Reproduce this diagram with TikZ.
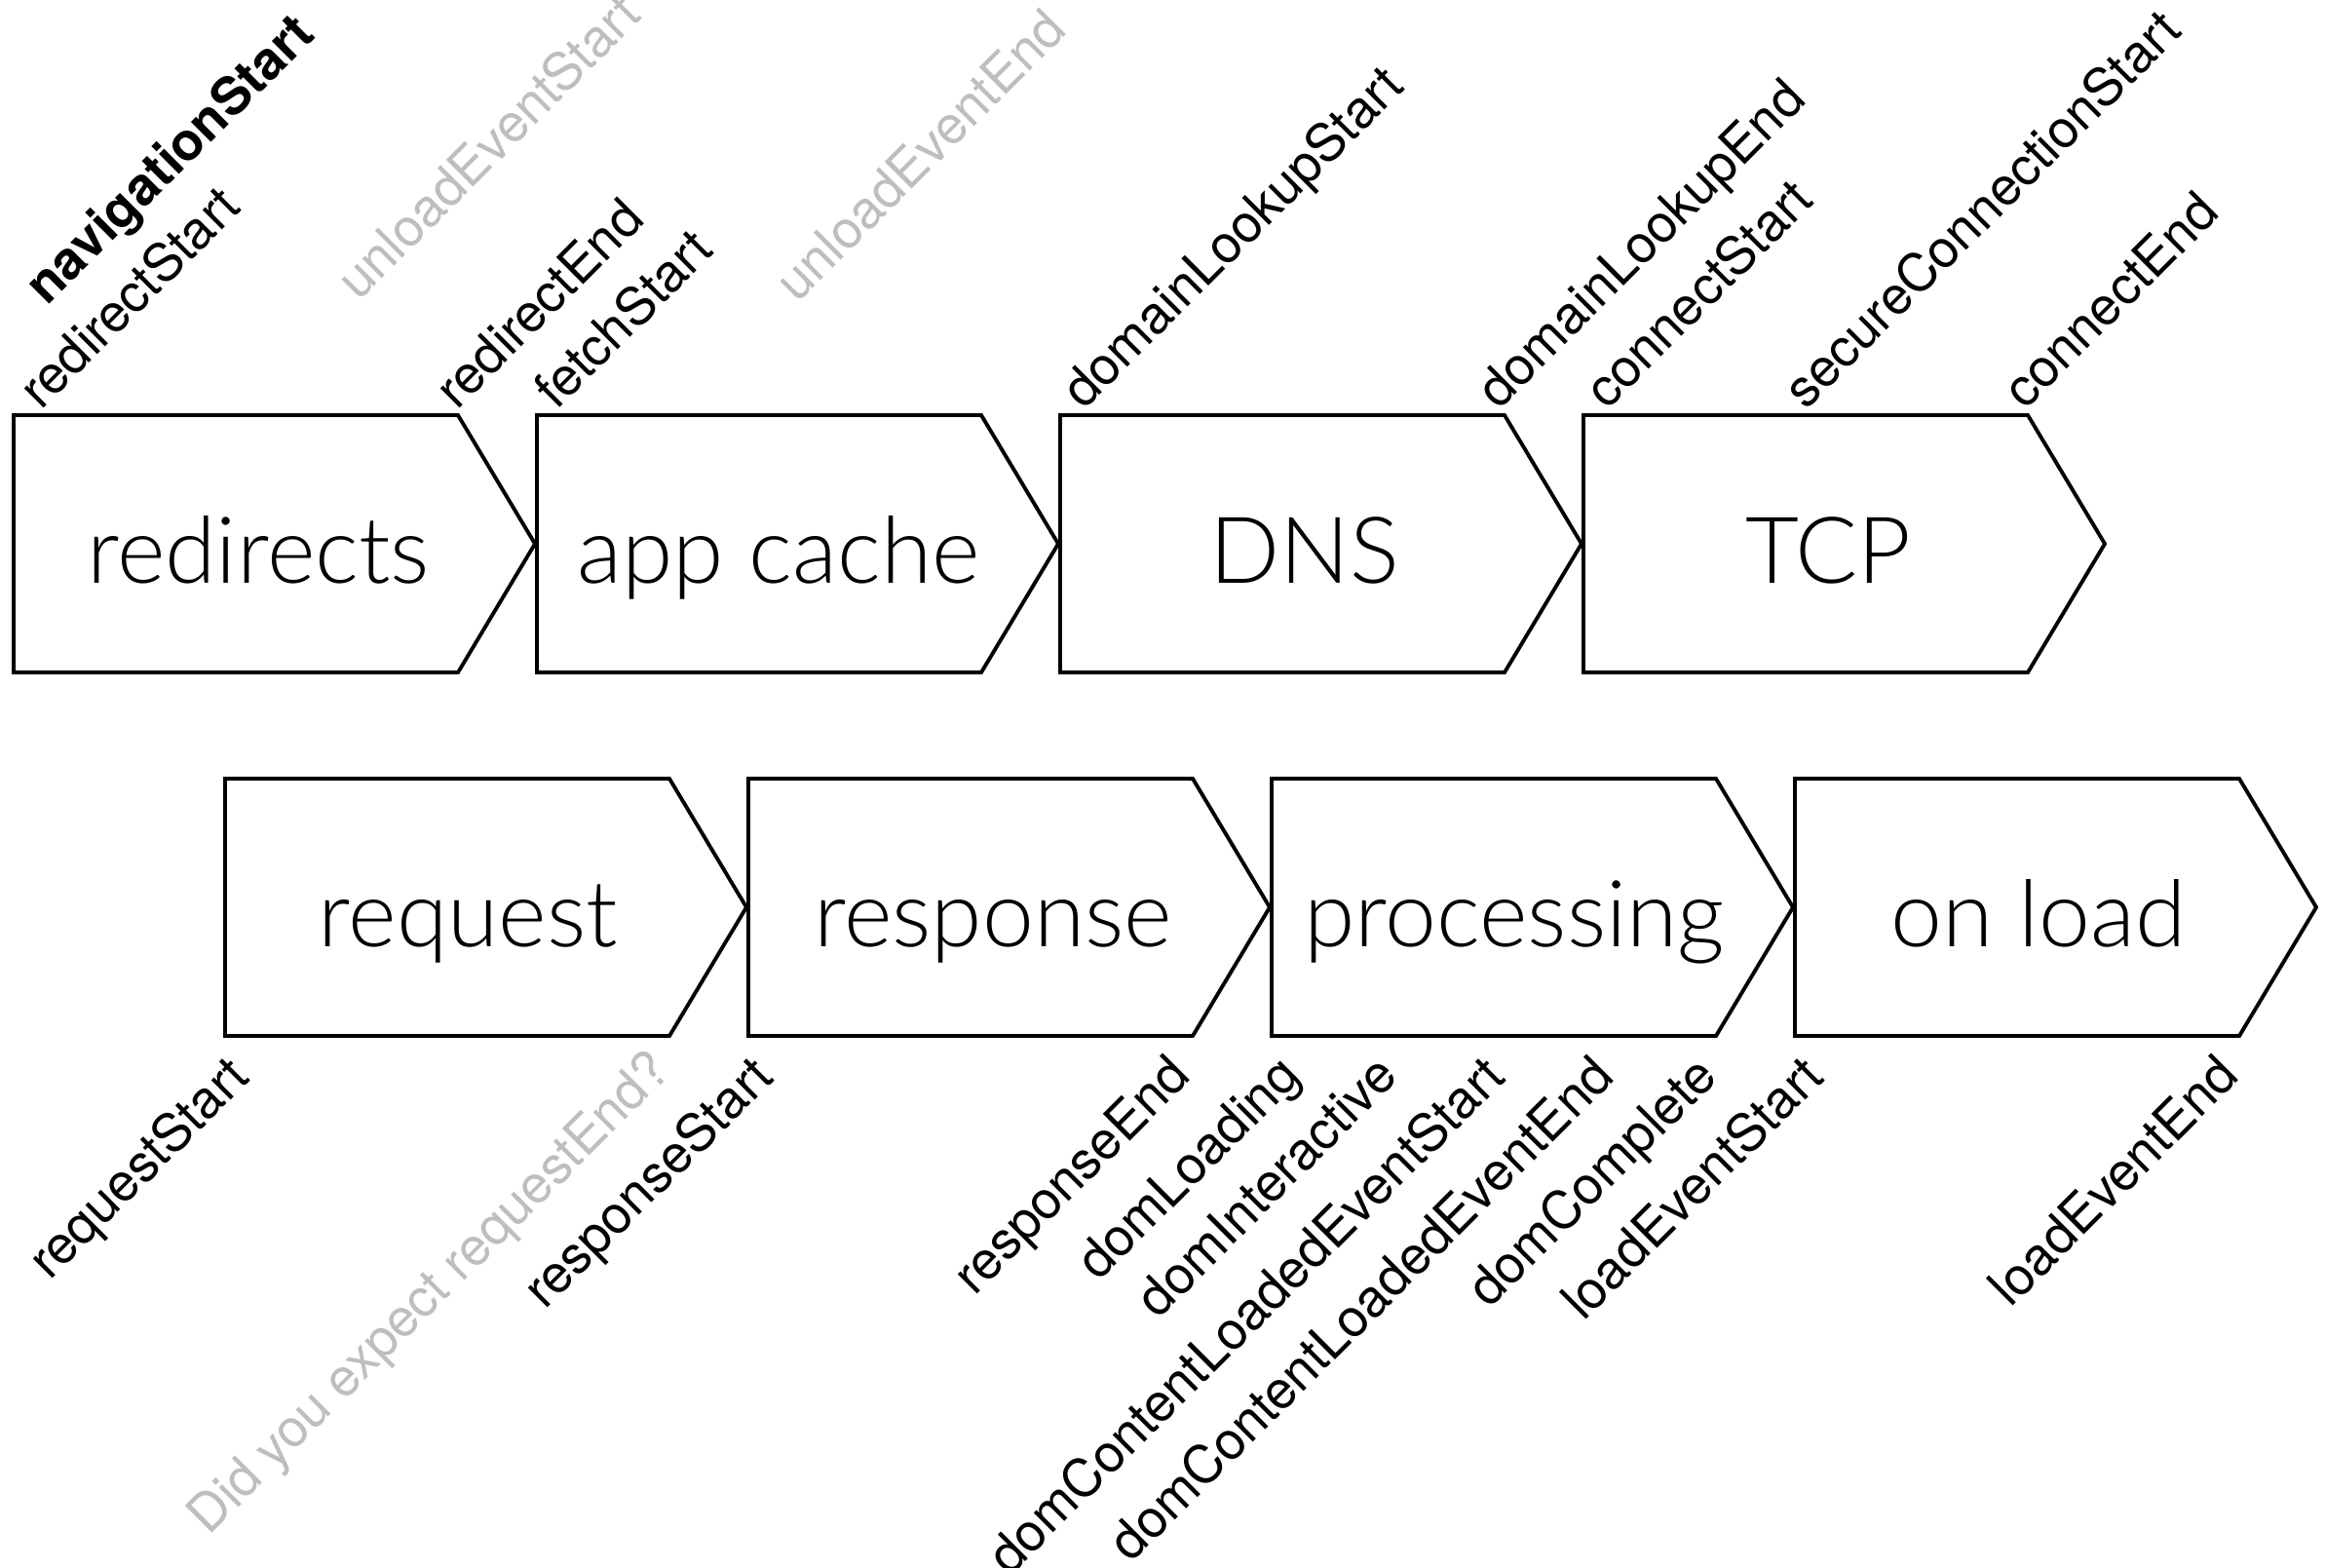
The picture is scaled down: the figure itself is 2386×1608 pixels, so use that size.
\documentclass[tikz,border=0pt]{standalone}
\usepackage{fontspec}
\setmainfont{TeX Gyre Heros}
\newfontfamily\lightfont{Lato Light}
\usepackage{xcolor}
\definecolor{hintgray}{HTML}{BEBEBE}

\tikzset{
  stage/.style={draw=black, line width=1.1pt, line join=miter},
  stagename/.style={anchor=base, inner sep=0pt, font=\lightfont\fontsize{27}{30}\selectfont},
  toplabel/.style={anchor=base west, rotate=45, inner sep=0pt, font=\fontsize{15.3}{18}\selectfont},
  botlabel/.style={anchor=north east, rotate=45, inner sep=0pt, font=\fontsize{15.3}{18}\selectfont},
  hint/.style={text=hintgray}
}

\begin{document}
\begin{tikzpicture}[x=0.1mm, y=-0.1mm]
  \useasboundingbox (0,0) rectangle (2386,1608);

  % first row
  \draw[stage] (14,426) -- (470,426) -- (549,558) -- (470,690) -- (14,690) -- cycle;
  \node[stagename] (redirects) at (265,598) {redirects};
  \draw[stage] (551,426) -- (1007,426) -- (1086,558) -- (1007,690) -- (551,690) -- cycle;
  \node[stagename] (appcache) at (799,598) {app cache};
  \draw[stage] (1088,426) -- (1544,426) -- (1623,558) -- (1544,690) -- (1088,690) -- cycle;
  \node[stagename] (dns) at (1339,598) {DNS};
  \draw[stage] (1625,426) -- (2081,426) -- (2160,558) -- (2081,690) -- (1625,690) -- cycle;
  \node[stagename] (tcp) at (1876,598) {TCP};

  % second row
  \draw[stage] (231,799) -- (687,799) -- (766,931) -- (687,1063) -- (231,1063) -- cycle;
  \node[stagename] (request) at (480,971) {request};
  \draw[stage] (768,799) -- (1224,799) -- (1303,931) -- (1224,1063) -- (768,1063) -- cycle;
  \node[stagename] (response) at (1019,971) {response};
  \draw[stage] (1305,799) -- (1761,799) -- (1840,931) -- (1761,1063) -- (1305,1063) -- cycle;
  \node[stagename] (processing) at (1554,971) {processing};
  \draw[stage] (1842,799) -- (2298,799) -- (2377,931) -- (2298,1063) -- (1842,1063) -- cycle;
  \node[stagename] (onload) at (2092,971) {on load};

  % timestamps above
  \node[toplabel, font=\bfseries\fontsize{15.3}{18}\selectfont] (navstart) at (48,315) {navigationStart};
  \node[toplabel] (redirstart) at (42,422) {redirectStart};
  \node[toplabel, hint] (unloadstart) at (368,310) {unloadEventStart};
  \node[toplabel] (redirend) at (469,422) {redirectEnd};
  \node[toplabel] (fetchstart) at (571,422) {fetchStart};
  \node[toplabel, hint] (unloadend) at (818,312) {unloadEventEnd};
  \node[toplabel] (dnsstart) at (1112,422) {domainLookupStart};
  \node[toplabel] (dnsend) at (1538,422) {domainLookupEnd};
  \node[toplabel] (connstart) at (1649,422) {connectStart};
  \node[toplabel] (securestart) at (1853,422) {secureConnectionStart};
  \node[toplabel] (connend) at (2078,422) {connectEnd};

  % timestamps below
  \node[botlabel] (reqstart) at (230,1078) {requestStart};
  \node[botlabel, hint] (reqend) at (662,1072) {Did you expect requestEnd?};
  \node[botlabel] (respstart) at (768,1078) {responseStart};
  \node[botlabel] (respend) at (1196,1078) {responseEnd};
  \node[botlabel] (domloading) at (1309,1078) {domLoading};
  \node[botlabel] (dominteractive) at (1409,1078) {domInteractive};
  \node[botlabel] (dclstart) at (1519,1078) {domContentLoadedEventStart};
  \node[botlabel] (dclend) at (1630,1078) {domContentLoadedEventEnd};
  \node[botlabel] (domcomplete) at (1736,1078) {domComplete};
  \node[botlabel] (loadstart) at (1846,1078) {loadEventStart};
  \node[botlabel] (loadend) at (2272,1078) {loadEventEnd};
\end{tikzpicture}
\end{document}
